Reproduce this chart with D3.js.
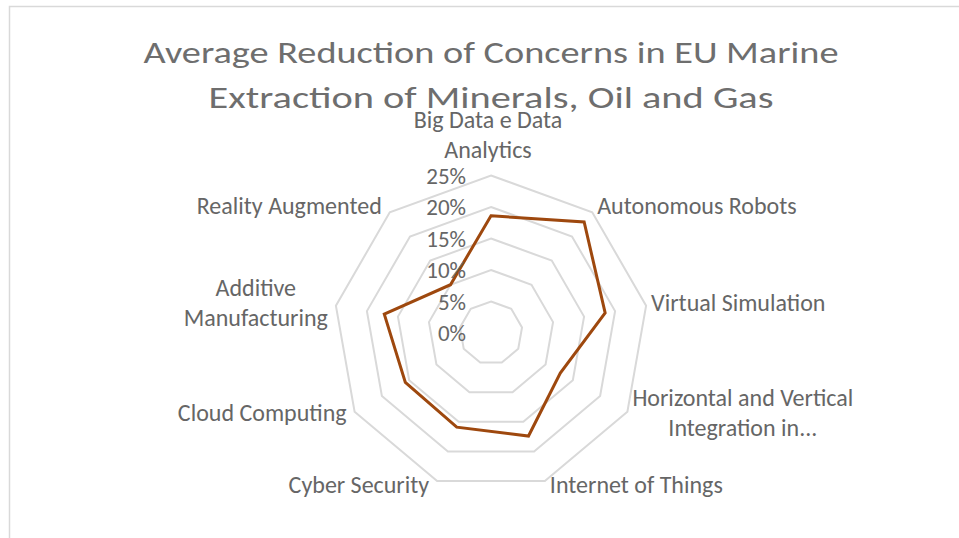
<html>
<head>
<meta charset="utf-8">
<script src="https://d3js.org/d3.v7.min.js"></script>
<style>
  body { margin: 0; background: #fff; }
  text { font-family: Calibri, Carlito, "Liberation Sans", Arial, sans-serif; fill: #666666; }
</style>
</head>
<body>
<div id="div1"></div>
<script>

// Chart data
var categories = [
  ["Big Data e Data", "Analytics"],
  ["Autonomous Robots"],
  ["Virtual Simulation"],
  ["Horizontal and Vertical", "Integration in..."],
  ["Internet of Things"],
  ["Cyber Security"],
  ["Cloud Computing"],
  ["Additive", "Manufacturing"],
  ["Reality Augmented"]
]
var values = [0.186, 0.23, 0.184, 0.127, 0.174, 0.159, 0.157, 0.172, 0.10]
var tick_values = [0, 0.05, 0.10, 0.15, 0.20, 0.25]
var title_lines = ["Average  Reduction  of  Concerns  in  EU  Marine", "Extraction  of  Minerals,  Oil  and  Gas"]

// Svg dimensions
var svg_width = 959
var svg_height = 538
var cx = 491
var cy = 333
var max_radius = 157.5

var svg = d3.select("#div1").append("svg")
  .attr("width", svg_width)
  .attr("height", svg_height)

// chart frame (only top and left edges show)
svg.append("path")
  .attr("d", "M9.5,538 L9.5,6.5 L959,6.5")
  .style("fill", "none")
  .style("stroke", "#d9d9d9")
  .style("stroke-width", 1.5)

// fit a text element to a target width
var fit_width = function(sel, w) {
  sel.each(function() {
    var cur = this.getComputedTextLength()
    if (cur > 0) {
      d3.select(this).attr("textLength", w).attr("lengthAdjust", "spacingAndGlyphs")
    }
  })
}

// title
var title_widths = [695, 565]
var title_base = [63, 108]
title_lines.forEach(function(t, i) {
  svg.append("text")
    .text(t)
    .attr("x", cx)
    .attr("y", title_base[i])
    .attr("text-anchor", "middle")
    .attr("font-size", 31)
    .style("fill", "#6e6e6e")
    .call(fit_width, title_widths[i])
})

var r_scale = d3.scaleLinear()
  .domain([0, 0.25])
  .range([0, max_radius])

var angle_scale = d3.scaleLinear()
  .domain([0, categories.length])
  .range([0, 2 * Math.PI])

var point_at = function(i, v) {
  var a = angle_scale(i)
  return [cx + r_scale(v) * Math.sin(a), cy - r_scale(v) * Math.cos(a)]
}

var g = svg.append("g")

// grid rings
var ring_line = d3.line()
g.selectAll(".ring")
  .data(tick_values.slice(1))
  .enter().append("path")
  .attr("class", "ring")
  .attr("d", function(t) {
    return ring_line(d3.range(categories.length).map(function(i) { return point_at(i, t) })) + "Z"
  })
  .style("fill", "none")
  .style("stroke", "#d9d9d9")
  .style("stroke-width", 2)

// data line
g.append("path")
  .attr("d", ring_line(values.map(function(v, i) { return point_at(i, v) })) + "Z")
  .style("fill", "none")
  .style("stroke", "#9e480e")
  .style("stroke-width", 3)
  .style("stroke-linejoin", "miter")

// tick labels
var fmt = d3.format(".0%")
g.selectAll(".tick_label")
  .data(tick_values)
  .enter().append("text")
  .attr("class", "tick_label")
  .text(function(t) { return fmt(t) })
  .attr("x", cx - 25)
  .attr("y", function(t) { return cy - r_scale(t) + 8 })
  .attr("text-anchor", "end")
  .attr("font-size", 23)

// category labels
var line_h = 30
categories.forEach(function(lines, i) {
  var a = angle_scale(i)
  var p = point_at(i, 0.25)
  var s = Math.sin(a)
  var lab = svg.append("g")
  var texts = lines.map(function(l) {
    return lab.append("text").text(l).attr("font-size", 24).attr("text-anchor", "middle")
  })
  var w = d3.max(texts, function(t) { return t.node().getComputedTextLength() })
  var mx
  if (Math.abs(s) < 0.1) { mx = p[0] - 3 }
  else if (s > 0) { mx = p[0] + 5 + w / 2 }
  else { mx = p[0] - 8 - w / 2 }
  var base_mid
  if (Math.abs(s) < 0.1) { base_mid = p[1] - 17.5 - (lines.length - 1) * line_h / 2 }
  else { base_mid = p[1] + 6 - 6 * Math.cos(a) }
  texts.forEach(function(t, k) {
    t.attr("x", mx)
      .attr("y", base_mid + (k - (lines.length - 1) / 2) * line_h)
  })
})

</script>
</body>
</html>
